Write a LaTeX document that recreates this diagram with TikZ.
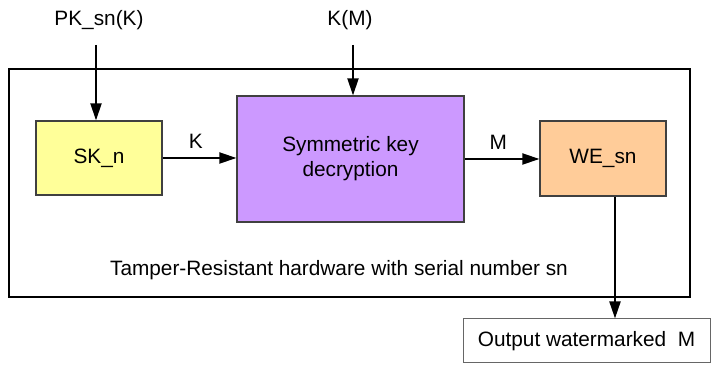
\documentclass[tikz,border=0pt]{standalone}
\usepackage{fontspec}
\setmainfont{Liberation Sans}
\usetikzlibrary{arrows.meta}
\definecolor{skfill}{HTML}{FFFF99}
\definecolor{symfill}{HTML}{CC99FF}
\definecolor{wefill}{HTML}{FFCC99}
\definecolor{boxedge}{HTML}{404040}
\tikzset{
  blk/.style={draw=boxedge, line width=0.9pt, rectangle, align=center, inner sep=0pt, font=\fontsize{15.6}{18.6}\selectfont},
  lbl/.style={inner sep=0pt, font=\fontsize{15.6}{18.6}\selectfont},
  arr/.style={line width=1.5pt, -{Triangle[length=12.75pt, width=8.25pt]}},
}
\begin{document}
\begin{tikzpicture}[x=0.75pt, y=-0.75pt]
\useasboundingbox (0,0) rectangle (711,373);
% hardware enclosure
\node[draw, line width=1.5pt, rectangle, minimum width=510.75pt, minimum height=171pt, inner sep=0pt] (hw) at (349.5,183) {};
\node[lbl] (hwlabel) at (339,270) {Tamper-Resistant hardware with serial number sn};
% processing blocks
\node[blk, fill=skfill, minimum width=94.5pt, minimum height=55.5pt] (sk) at (99,158) {SK\_n};
\node[blk, fill=symfill, minimum width=170.25pt, minimum height=94.5pt] (sym) at (350.5,159) {Symmetric key\\decryption};
\node[blk, fill=wefill, minimum width=94.5pt, minimum height=56.25pt] (we) at (603,158.5) {WE\_sn};
\node[blk, draw=boxedge!80, line width=0.75pt, fill=white, minimum width=185.25pt, minimum height=33pt] (out) at (586.5,341) {Output watermarked\ \ M};
% inputs
\node[lbl] (pk) at (99,20) {PK\_sn(K)};
\node[lbl] (km) at (350,20) {K(M)};
\coordinate (pkstart) at (96,45);
\coordinate (kmstart) at (353,45);
% connectors
\draw[arr] (pkstart) -- (pkstart |- sk.north);
\draw[arr] (kmstart) -- (kmstart |- sym.north);
\draw[arr] (sk.east) -- (sk.east -| sym.west) node[lbl, pos=0.45, above=6pt] (klabel) {K};
\draw[arr] (sym.east) -- (sym.east -| we.west) node[lbl, pos=0.45, above=6pt] (mlabel) {M};
\draw[arr] ([xshift=9pt]we.south) -- ([xshift=9pt]we.south |- out.north);
\end{tikzpicture}
\end{document}
